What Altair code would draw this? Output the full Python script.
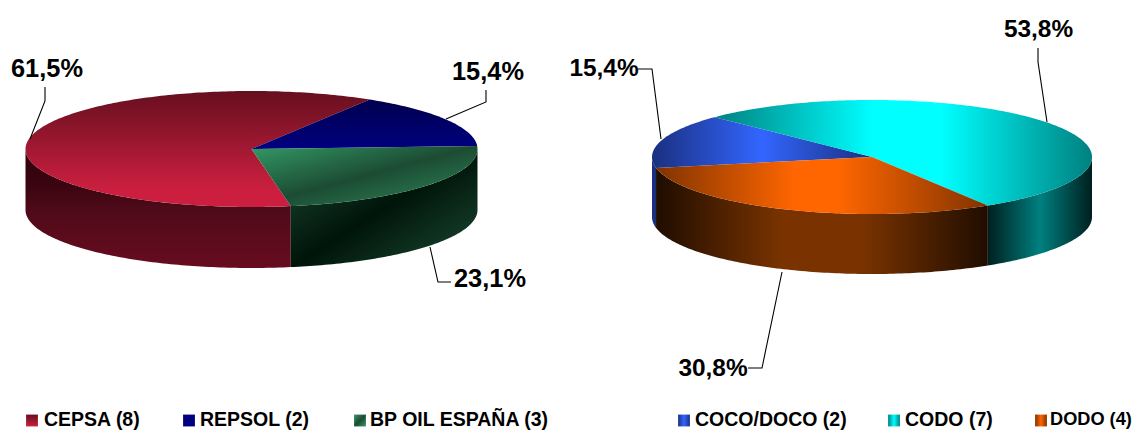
import math
import altair as alt
import pandas as pd

# ---- values -------------------------------------------------------------
left_names = ["CEPSA (8)", "REPSOL (2)", "BP OIL ESPAÑA (3)"]
left_counts = [8, 2, 3]
left_labels = ["61,5%", "15,4%", "23,1%"]

right_names = ["COCO/DOCO (2)", "CODO (7)", "DODO (4)"]
right_counts = [2, 7, 4]
right_labels = ["15,4%", "53,8%", "30,8%"]

# ---- pie geometry (data space equals page pixels) -------------------------
left_pie = dict(cx=251.5, cy=149, rx=226, ry=58, depth=61, start=170)
right_pie = dict(cx=872, cy=157, rx=220, ry=57, depth=60, start=259)


def grad(stops, x1=0, y1=0, x2=1, y2=0):
    n = len(stops) - 1
    rows = [s if isinstance(s, tuple) else (i / n, s) for i, s in enumerate(stops)]
    return {
        "gradient": "linear", "x1": x1, "y1": y1, "x2": x2, "y2": y2,
        "stops": [{"offset": o, "color": c} for o, c in rows],
    }


left_top = [
    grad([(0, "#660f1f"), (0.85, "#cc1f3f"), (1, "#cc1f3f")], 0, 0, 0, 1),
    grad(["#00004d", "#000080"], 0, 0, 0, 1),
    grad(["#339966", "#1c4c33", "#2f8c5c"], 0, 0, 1, 1),
]
left_side = [
    grad([(0, "#2e000a"), (0.3, "#3a0510"), (0.5, "#4e0a18"), (1, "#680c20")], 0, 0, 0, 1),
    grad(["#000033", "#000033"]),
    grad(["#1c4c33", "#00140a", "#1c4c33"], 0, 0, 1, 1),
]
right_top = [
    grad(["#1a2f80", "#3366ff", "#1a2f80"]),
    grad([(0, "#008080"), (0.42, "#00ffff"), (0.6, "#00ffff"), (1, "#008080")]),
    grad([(0, "#803300"), (0.42, "#ff6600"), (0.55, "#ff6600"), (1, "#803300")]),
]
right_side = [
    grad(["#1a2f80", "#1a2f80"]),
    grad(["#001f1f", "#008080", "#001f1f"]),
    grad([(0, "#1f0d00"), (0.38, "#7a3300"), (0.62, "#7a3300"), (1, "#1f0d00")]),
]

# ---- scales --------------------------------------------------------------
X = alt.X("x:Q", scale=alt.Scale(domain=[8, 1132], nice=False, zero=False), axis=None)
Y = alt.Y("y:Q", scale=alt.Scale(domain=[430, 8], nice=False, zero=False), axis=None)


def ell(p, a, dy=0):
    t = math.radians(a)
    return p["cx"] + p["rx"] * math.sin(t), p["cy"] - p["ry"] * math.cos(t) + dy


def degrees(a, b):
    n = max(2, int(abs(b - a)) + 1)
    return [a + (b - a) * i / (n - 1) for i in range(n)]


def poly(points, fill):
    df = pd.DataFrame(points, columns=["x", "y"])
    df["i"] = range(len(df))
    return alt.Chart(df).mark_line(fill=fill, strokeWidth=0, interpolate="linear-closed").encode(
        x=X, y=Y, order="i:Q")


def pie_layers(p, counts, top_fills, side_fills):
    total = sum(counts)
    spans, a = [], p["start"]
    for c in counts:
        spans.append((a, a + 360 * c / total))
        a += 360 * c / total
    out = []
    # walls of the front half, then the lid
    for (a, b), f in zip(spans, side_fills):
        for shift in (0, 360):
            lo, hi = max(a, 90 + shift), min(b, 270 + shift)
            if hi > lo:
                arc = degrees(lo, hi)
                pts = [ell(p, d) for d in arc] + [ell(p, d, p["depth"]) for d in reversed(arc)]
                out.append(poly(pts, f))
    for (a, b), f in zip(spans, top_fills):
        pts = [(p["cx"], p["cy"])] + [ell(p, d) for d in degrees(a, b)]
        out.append(poly(pts, f))
    return out


# ---- annotations ---------------------------------------------------------
left_label_pos = [
    (left_labels[0], 47, 68.5), (left_labels[1], 488, 71.5), (left_labels[2], 490, 278.5),
]
right_label_pos = [
    (right_labels[0], 604, 68.5), (right_labels[1], 1038.5, 29.5), (right_labels[2], 713, 368.5),
]
leaders = [
    [(45, 87), (45, 101), (30, 139)],
    [(486, 90), (486, 102), (446, 119)],
    [(430, 247), (438, 282), (451, 282)],
    [(638, 69), (652, 69), (661, 139)],
    [(1038, 48), (1038, 62), (1047, 122)],
    [(782, 272), (762, 368), (748, 368)],
]
legend_x = [(26, 44), (183, 200), (354, 370), (678, 695), (888, 905), (1035, 1050)]
legend_size = [19.5, 19.5, 19.5, 19.5, 19.5, 18.2]
legend_y = 420

layers = []
layers += pie_layers(left_pie, left_counts, left_top, left_side)
layers += pie_layers(right_pie, right_counts, right_top, right_side)

for k, pts in enumerate(leaders):
    df = pd.DataFrame(pts, columns=["x", "y"])
    df["i"] = range(len(df))
    layers.append(alt.Chart(df).mark_line(color="#000000", strokeWidth=1.1).encode(x=X, y=Y, order="i:Q"))

for rows, fs in ((left_label_pos, 25.4), (right_label_pos, 24.4)):
    lab_df = pd.DataFrame(rows, columns=["t", "x", "y"])
    layers.append(
        alt.Chart(lab_df).mark_text(font="Liberation Sans", fontWeight="bold", fontSize=fs,
                                    color="#000000", align="center", baseline="middle")
        .encode(x=X, y=Y, text="t:N")
    )

names = left_names + right_names
fills = [
    grad(["#660f1f", "#cc1f3f"], 0, 0, 0, 1),
    grad(["#000080", "#000080"]),
    grad(["#339966", "#1c4c33", "#339966"], 0, 0, 1, 1),
    grad(["#1a2f80", "#3366ff", "#1a2f80"]),
    grad(["#008080", "#00ffff", "#008080"]),
    grad(["#803300", "#ff6600", "#803300"]),
]
for (sx, tx), nm, f, fs in zip(legend_x, names, fills, legend_size):
    sq = pd.DataFrame({"x": [sx + 6], "y": [legend_y + 0.5]})
    layers.append(alt.Chart(sq).mark_square(size=140, fill=f, opacity=1, strokeWidth=0).encode(x=X, y=Y))
    tx_df = pd.DataFrame({"x": [tx], "y": [legend_y], "t": [nm]})
    layers.append(
        alt.Chart(tx_df).mark_text(font="Liberation Sans", fontWeight="bold", fontSize=fs,
                                   color="#000000", align="left", baseline="middle")
        .encode(x=X, y=Y, text="t:N")
    )

chart = alt.layer(*layers).properties(
    width=1124, height=422, padding=0, autosize=alt.AutoSizeParams(type="none"),
    background="#ffffff",
).configure_view(stroke=None)

chart.save("out.html", embed_options={"renderer": "svg", "actions": False})
